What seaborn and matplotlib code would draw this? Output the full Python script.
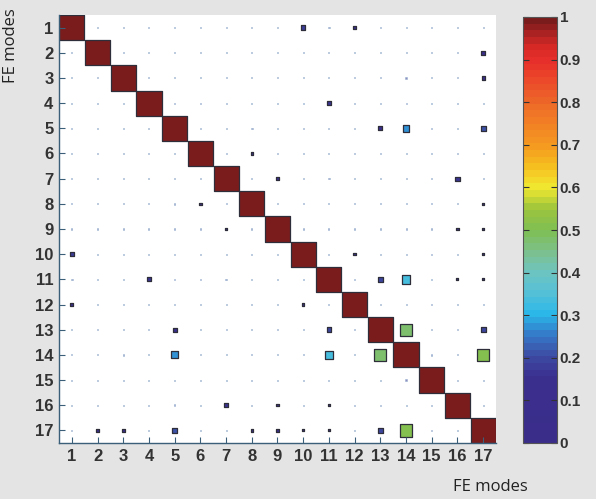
import numpy as np
import pandas as pd
import matplotlib
matplotlib.use("Agg")
import matplotlib.pyplot as plt
from matplotlib.colors import LinearSegmentedColormap, Normalize
import seaborn as sns

modes = list(range(1, 18))
tick_labels = [str(m) for m in modes]
cbar_ticks = [0, 0.1, 0.2, 0.3, 0.4, 0.5, 0.6, 0.7, 0.8, 0.9, 1]
cbar_labels = ["0", "0.1", "0.2", "0.3", "0.4", "0.5", "0.6", "0.7", "0.8", "0.9", "1"]

mac_rows = [
    [1, .04, .04, .04, .04, .04, .04, .04, .04, .18, .06, .13, .04, .04, .04, .04, .04],
    [.04, 1, .04, .04, .04, .04, .04, .04, .04, .04, .04, .04, .04, .04, .04, .04, .14],
    [.04, .04, 1, .04, .04, .04, .04, .04, .04, .04, .04, .04, .04, .06, .04, .04, .13],
    [.04, .04, .04, 1, .04, .04, .04, .04, .04, .04, .17, .04, .04, .04, .04, .04, .04],
    [.04, .04, .04, .04, 1, .04, .04, .06, .04, .04, .04, .04, .15, .27, .04, .06, .21],
    [.04, .04, .04, .04, .04, 1, .04, .10, .04, .04, .04, .04, .04, .04, .04, .05, .04],
    [.04, .04, .04, .04, .04, .04, 1, .04, .10, .04, .06, .04, .04, .04, .04, .17, .04],
    [.04, .04, .04, .04, .06, .10, .04, 1, .04, .04, .04, .04, .04, .04, .04, .04, .10],
    [.04, .04, .04, .04, .04, .04, .10, .04, 1, .04, .04, .04, .04, .04, .04, .10, .10],
    [.18, .04, .04, .04, .04, .04, .04, .04, .04, 1, .04, .10, .04, .04, .04, .04, .08],
    [.06, .04, .04, .17, .04, .04, .06, .04, .04, .04, 1, .04, .19, .34, .04, .08, .08],
    [.13, .04, .04, .04, .04, .04, .04, .04, .04, .10, .04, 1, .04, .04, .04, .04, .04],
    [.04, .04, .04, .04, .15, .04, .04, .04, .04, .04, .19, .04, 1, .48, .04, .04, .19],
    [.04, .04, .06, .04, .27, .04, .04, .04, .04, .04, .34, .04, .48, 1, .06, .04, .50],
    [.04, .04, .04, .04, .04, .04, .04, .04, .04, .04, .04, .04, .04, .06, 1, .04, .04],
    [.04, .04, .04, .04, .06, .05, .17, .04, .10, .04, .08, .04, .04, .04, .04, 1, .04],
    [.04, .14, .13, .04, .21, .04, .04, .10, .10, .08, .08, .04, .19, .50, .04, .04, 1],
]

cmap_pos = [0.0, 0.15, 0.2, 0.25, 0.3, 0.35, 0.4, 0.45, 0.5, 0.55, 0.6, 0.65, 0.7, 0.8, 0.9, 0.94, 1.0]
cmap_cols = ["#3a2d8a", "#3b2f8e", "#3d4ca3", "#3578c8", "#2ab8ea", "#55c0d8", "#6ec4c0",
             "#7cc08a", "#80bf52", "#9cc43c", "#f0e830", "#f6c020", "#f59a20", "#ee6a28",
             "#e8302a", "#d42826", "#7a1c1c"]
cmap = LinearSegmentedColormap.from_list("macjet", list(zip(cmap_pos, cmap_cols)), N=64)

recs = []
for i, row in enumerate(mac_rows):
    for j, v in enumerate(row):
        recs.append({"x": modes[j], "y": modes[i], "v": v})
df = pd.DataFrame(recs)

W, H, DPI = 5.96, 4.99, 100
fig = plt.figure(figsize=(W, H), dpi=DPI)
bg = "#e4e4e4"
fig.patch.set_facecolor(bg)

ax_l, ax_b, ax_w, ax_h = 59 / 596, 1 - 443 / 499, 437 / 596, 428 / 499
ax = fig.add_axes([ax_l, ax_b, ax_w, ax_h])
ax.set_facecolor("white")

cell_pt = ax_h * H * 72 / 17.0
df["area"] = (df["v"] * cell_pt) ** 2
amin, amax = df["area"].min(), df["area"].max()

big = df[df["v"] >= 0.08]
small = df[df["v"] < 0.08]

sns.scatterplot(data=small, x="x", y="y", hue="v", palette=cmap, hue_norm=(0, 1),
                size="area", sizes=(amin, amax), size_norm=(amin, amax),
                marker="s", edgecolor="#7fa6c8", linewidth=0.5, alpha=0.55, legend=False, ax=ax)
sns.scatterplot(data=big, x="x", y="y", hue="v", palette=cmap, hue_norm=(0, 1),
                size="area", sizes=(amin, amax), size_norm=(amin, amax),
                marker="s", edgecolor="#2e2e3a", linewidth=0.9, legend=False, ax=ax)

ax.set_xlim(0.5, 17.5)
ax.set_ylim(17.5, 0.5)
ax.set_xticks(modes)
ax.set_yticks(modes)
spine_col = "#3b5f78"
ax.set_xticklabels(tick_labels, fontsize=12, fontweight="bold", color="#333333", family="Liberation Sans")
ax.set_yticklabels(tick_labels, fontsize=12, fontweight="bold", color="#333333", family="Liberation Sans")
ax.tick_params(direction="in", length=4, width=0.8, color=spine_col, pad=4)
ax.set_xlabel("")
ax.set_ylabel("")
for s in ["top", "right"]:
    ax.spines[s].set_visible(False)
for s in ["left", "bottom"]:
    ax.spines[s].set_color(spine_col)
    ax.spines[s].set_linewidth(1.0)

cax = fig.add_axes([523 / 596, 1 - 443 / 499, 34 / 596, 426 / 499])
sm = matplotlib.cm.ScalarMappable(norm=Normalize(0, 1), cmap=cmap)
cb = fig.colorbar(sm, cax=cax)
cb.set_ticks(cbar_ticks)
cb.set_ticklabels(cbar_labels)
cax.tick_params(direction="in", length=4, width=0.8, color="#333333", left=True, right=True,
                labelsize=11, labelcolor="#333333", pad=2)
for lab in cax.get_yticklabels():
    lab.set_fontweight("bold")
    lab.set_family("Liberation Sans")
cb.outline.set_edgecolor("#555555")
cb.outline.set_linewidth(0.8)

fig.text(0.822, 0.024, "FE modes", ha="center", va="center", fontsize=12, color="#222222",
         family="Open Sans")
fig.text(0.018, 0.908, "FE modes", ha="center", va="center", rotation=90, fontsize=12,
         color="#222222", family="Open Sans")

fig.savefig("out.png", dpi=DPI, facecolor=bg)
